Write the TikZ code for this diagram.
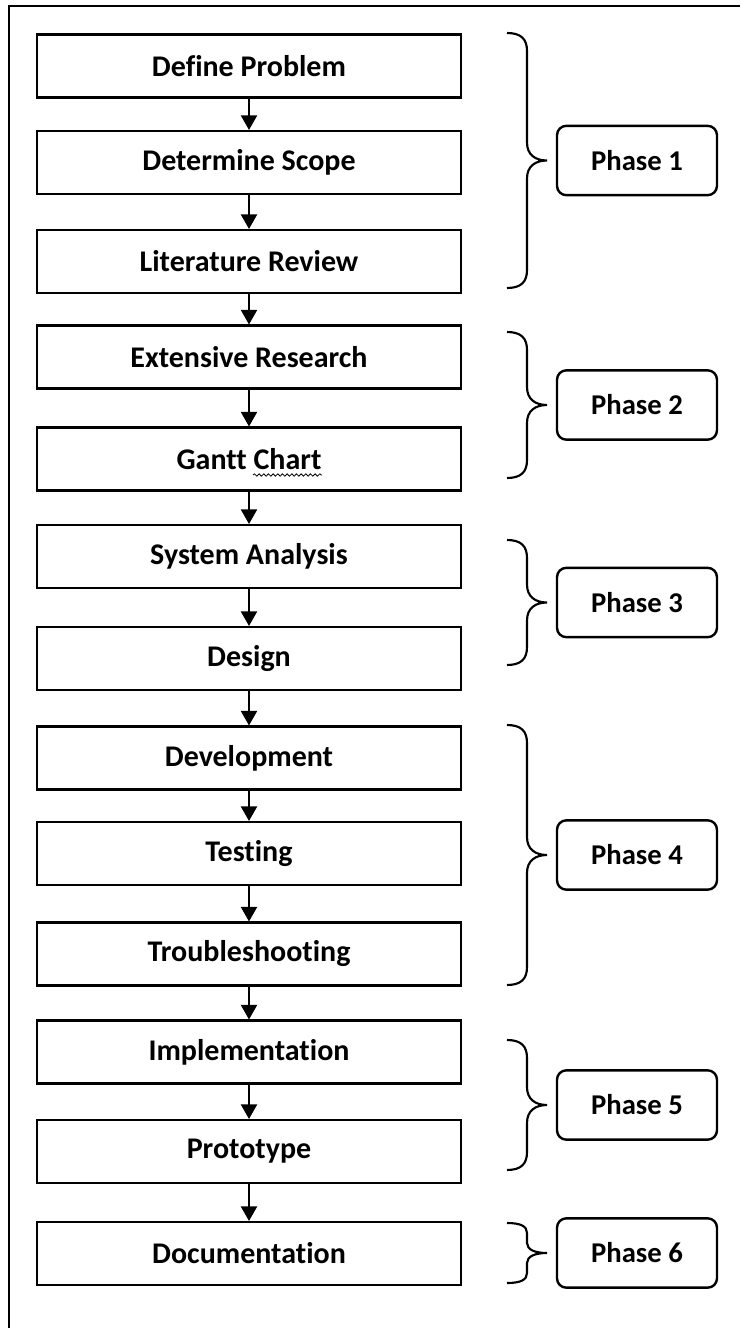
\documentclass[tikz,border=0pt]{standalone}
\usepackage{fontspec}
\setmainfont{Carlito}[Ligatures=NoCommon]
\usetikzlibrary{arrows.meta,decorations.pathmorphing}

% curly brace: x of the open side, top, bottom
\newcommand{\phasebrace}[3]{%
  \pgfmathsetmacro{\bmid}{(#2+#3)/2}%
  \pgfmathsetmacro{\bc}{min(18,(#3-#2)/6)}%
  \draw[brace line] (#1,#2) .. controls (#1+14,#2) and (#1+20,#2+\bc/3) .. (#1+20,#2+\bc)
    -- (#1+20,\bmid-\bc) .. controls (#1+20,\bmid-\bc/3) and (#1+28,\bmid) .. (#1+40,\bmid)
    .. controls (#1+28,\bmid) and (#1+20,\bmid+\bc/3) .. (#1+20,\bmid+\bc)
    -- (#1+20,#3-\bc) .. controls (#1+20,#3-\bc/3) and (#1+14,#3) .. (#1,#3);}

\begin{document}
\begin{tikzpicture}[x=0.75pt,y=-0.75pt,
  taskbox/.style={draw, line width=1.8pt, minimum width=318pt, minimum height=47pt,
    inner sep=0pt, font=\bfseries\fontsize{22.5}{25}\selectfont},
  phasebox/.style={draw, line width=1.8pt, rounded corners=7pt, minimum width=120pt,
    minimum height=52pt, inner sep=0pt, font=\bfseries\fontsize{21.5}{24}\selectfont},
  flow/.style={-{Triangle[width=12pt,length=11pt]}, line width=1.8pt},
  brace line/.style={line width=1.6pt}]
\useasboundingbox (0,0) rectangle (740,1328);
\draw[line width=2.2pt] (9,1328) -- (9,6) -- (740,6);

\node [taskbox] (dp) at (249,66) {Define Problem};
\node [taskbox] (ds) at (249,162.5) {Determine Scope};
\node [taskbox] (lr) at (249,261.5) {Literature Review};
\node [taskbox] (er) at (249,357) {Extensive Research};
\node [taskbox] (gc) at (249,459) {Gantt Chart};
\node [taskbox] (sa) at (249,556.5) {System Analysis};
\node [taskbox] (de) at (249,658.5) {Design};
\node [taskbox] (dev) at (249,758) {Development};
\node [taskbox] (te) at (249,853.5) {Testing};
\node [taskbox] (tr) at (249,954) {Troubleshooting};
\node [taskbox] (im) at (249,1052) {Implementation};
\node [taskbox] (pr) at (249,1151.5) {Prototype};
\node [taskbox] (doc) at (249,1253.5) {Documentation};

\draw[flow] (dp) -- (ds);
\draw[flow] (ds) -- (lr);
\draw[flow] (lr) -- (er);
\draw[flow] (er) -- (gc);
\draw[flow] (gc) -- (sa);
\draw[flow] (sa) -- (de);
\draw[flow] (de) -- (dev);
\draw[flow] (dev) -- (te);
\draw[flow] (te) -- (tr);
\draw[flow] (tr) -- (im);
\draw[flow] (im) -- (pr);
\draw[flow] (pr) -- (doc);

% spell-check underline
\draw[decorate, decoration={snake, amplitude=0.9pt, segment length=3.5pt}, line width=0.6pt]
  (253,475) -- (322,475);

\node [phasebox] (p1) at (637,160.5) {Phase 1};
\node [phasebox] (p2) at (637,405) {Phase 2};
\node [phasebox] (p3) at (637,602.5) {Phase 3};
\node [phasebox] (p4) at (637,855) {Phase 4};
\node [phasebox] (p5) at (637,1105) {Phase 5};
\node [phasebox] (p6) at (637,1253) {Phase 6};

\phasebrace{507}{33}{288}
\phasebrace{507}{332}{478}
\phasebrace{507}{540}{665}
\phasebrace{507}{725}{985}
\phasebrace{507}{1040}{1170}
\phasebrace{507}{1223}{1283}
\end{tikzpicture}
\end{document}
